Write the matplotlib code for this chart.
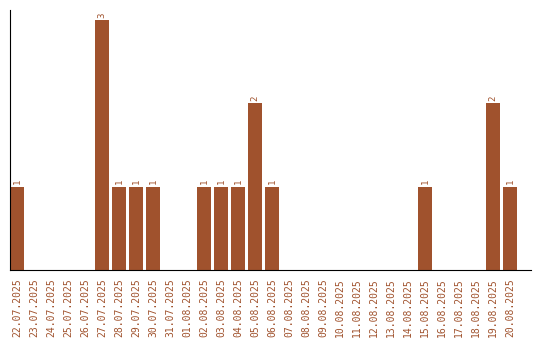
import matplotlib
matplotlib.use('Agg')
import matplotlib.pyplot as plt

days = ['22.07.2025', '23.07.2025', '24.07.2025', '25.07.2025', '26.07.2025',
        '27.07.2025', '28.07.2025', '29.07.2025', '30.07.2025', '31.07.2025',
        '01.08.2025', '02.08.2025', '03.08.2025', '04.08.2025', '05.08.2025',
        '06.08.2025', '07.08.2025', '08.08.2025', '09.08.2025', '10.08.2025',
        '11.08.2025', '12.08.2025', '13.08.2025', '14.08.2025', '15.08.2025',
        '16.08.2025', '17.08.2025', '18.08.2025', '19.08.2025', '20.08.2025']
counts = [1, 0, 0, 0, 0, 3, 1, 1, 1, 0, 0, 1, 1, 1, 2,
          1, 0, 0, 0, 0, 0, 0, 0, 0, 1, 0, 0, 0, 2, 1]

col = '#A0522D'

fig = plt.figure(figsize=(5.4, 3.4), dpi=100)
ax = fig.add_axes([10/540, 70/340, 521/540, 260/340])

x = list(range(len(days)))
w = 0.82
ax.bar(x, counts, width=w, color=col)
for xi, c in zip(x, counts):
    if c > 0:
        ax.text(xi, c + 0.03, str(c), rotation=90, ha='center', va='bottom',
                color=col, fontsize=6.5, family='DejaVu Sans Mono')

ax.set_xlim(-w/2, 30.24)
ax.set_ylim(0, 3.12)
ax.set_xticks(x)
ax.set_xticklabels(days, rotation=90, color=col, fontsize=7, family='DejaVu Sans Mono')
ax.tick_params(axis='x', length=0, pad=6)
ax.set_yticks([])
ax.spines['top'].set_visible(False)
ax.spines['right'].set_visible(False)

fig.savefig('out.png', dpi=100)
